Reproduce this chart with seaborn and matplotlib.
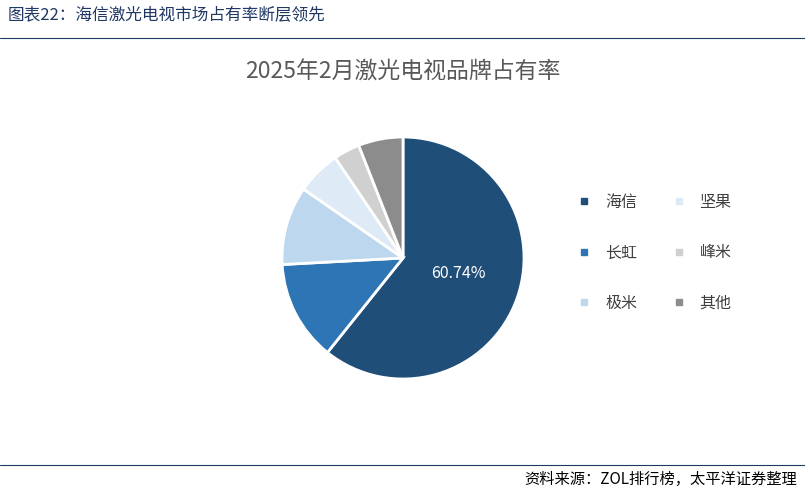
import matplotlib
matplotlib.use("Agg")
import matplotlib.pyplot as plt
import seaborn as sns
from matplotlib.lines import Line2D

brands = ["海信", "长虹", "极米", "坚果", "峰米", "其他"]
shares = [60.74, 13.4, 10.5, 5.9, 3.5, 5.96]
colors = ["#1F4E79", "#2E75B6", "#BDD7EE", "#DEEBF7", "#D0D0D0", "#8C8C8C"]

sns.set_theme(style="white")
plt.rcParams['font.family'] = ['Noto Sans CJK SC', 'DejaVu Sans']

fig = plt.figure(figsize=(8.05, 4.93), dpi=100)
W, H = 805, 493
cx, cy, r = 403, 258, 121
ax = fig.add_axes([(cx - r) / W, (H - cy - r) / H, 2 * r / W, 2 * r / H])
wedges, _ = ax.pie(shares, colors=colors, startangle=90, counterclock=False,
                   radius=1, wedgeprops=dict(edgecolor="white", linewidth=2))
ax.set_xlim(-1, 1); ax.set_ylim(-1, 1); ax.set_aspect("equal"); ax.axis("off")
ax.text(0.46, -0.13, f"{shares[0]:.2f}%", color="white", fontsize=11.5,
        ha="center", va="center")

fig.text(8 / W, 1 - 16 / H, "图表22：海信激光电视市场占有率断层领先", fontsize=12,
         color="#1F3864", va="center")
fig.add_artist(Line2D([0, 1], [1 - 38 / H] * 2, color="#1F3864", lw=0.8))
fig.text(cx / W, 1 - 72 / H, "2025年2月激光电视品牌占有率", fontsize=16.5,
         color="#595959", ha="center", va="center")
fig.add_artist(Line2D([0, 1], [1 - 465 / H] * 2, color="#1F3864", lw=0.8))
fig.text(1 - 8 / W, 1 - 479 / H, "资料来源：ZOL排行榜，太平洋证券整理", fontsize=11,
         style="italic", color="black", ha="right", va="center")

handles = [Line2D([], [], marker="s", ls="", color=c, markersize=5) for c in colors]
fig.legend(handles, brands, ncol=2, loc="center", bbox_to_anchor=(650 / W, 1 - 253 / H),
           frameon=False, fontsize=11.5, labelcolor="#404040", handletextpad=0.3,
           columnspacing=1.6, labelspacing=2.1)
fig.savefig("out.png", dpi=100)
